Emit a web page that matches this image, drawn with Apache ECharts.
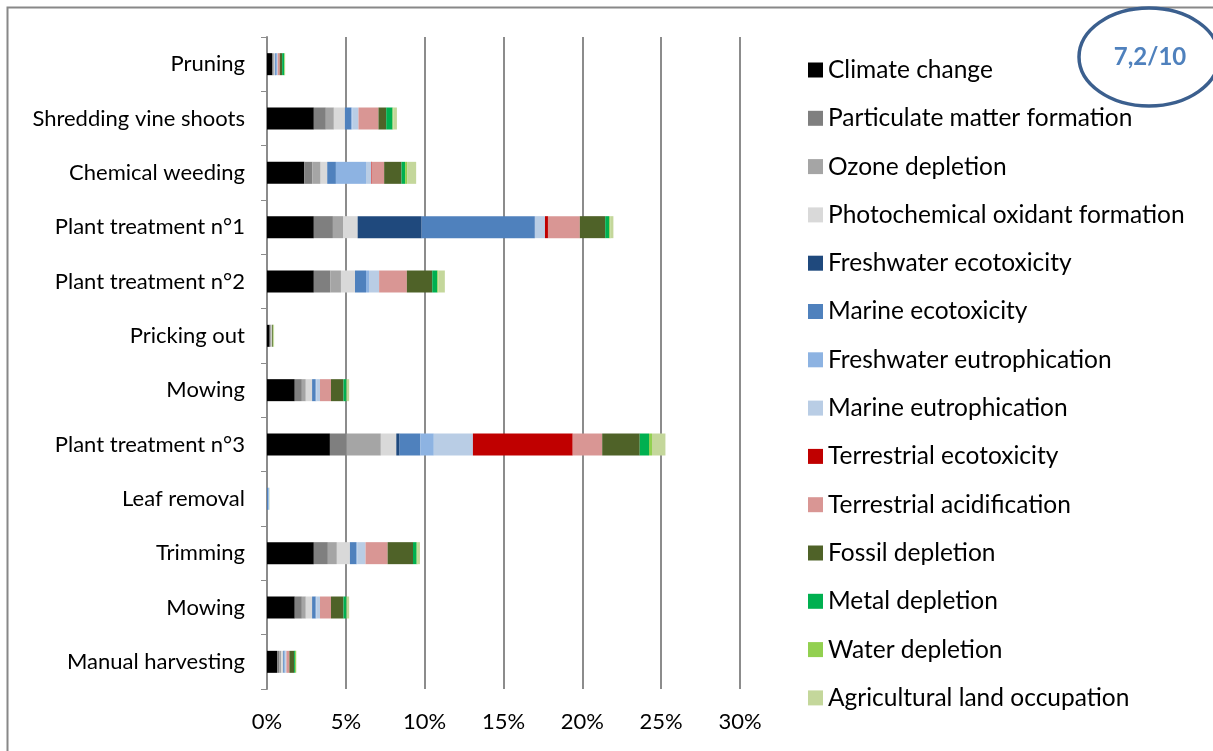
<!DOCTYPE html>
<html>
<head>
<meta charset="utf-8">
<script src="https://cdn.jsdelivr.net/npm/echarts@6/dist/echarts.min.js"></script>
<style>html,body{margin:0;padding:0;background:#fff}#c{width:1213px;height:751px}</style>
</head>
<body>
<div id="c"></div>
<script>
const categories = ['Pruning','Shredding vine shoots','Chemical weeding','Plant treatment n°1','Plant treatment n°2','Pricking out','Mowing','Plant treatment n°3','Leaf removal','Trimming','Mowing','Manual harvesting'];
const xTicks = [0,5,10,15,20,25,30];
const seriesNames = ['Climate change','Particulate matter formation','Ozone depletion','Photochemical oxidant formation','Freshwater ecotoxicity','Marine ecotoxicity','Freshwater eutrophication','Marine eutrophication','Terrestrial ecotoxicity','Terrestrial acidification','Fossil depletion','Metal depletion','Water depletion','Agricultural land occupation'];
const climateChange   = [0.32, 2.97, 2.36, 2.97, 2.97, 0.17, 1.76, 3.99, 0,    2.97, 1.76, 0.64];
const particulate     = [0.06, 0.76, 0.51, 1.21, 1.04, 0.06, 0.45, 1.06, 0,    0.89, 0.45, 0.13];
const ozone           = [0.06, 0.51, 0.53, 0.64, 0.68, 0.04, 0.25, 2.17, 0,    0.57, 0.25, 0.13];
const photochemical   = [0.06, 0.70, 0.42, 0.93, 0.89, 0.04, 0.40, 0.98, 0,    0.83, 0.40, 0.13];
const fwEcotox        = [0,    0,    0,    4.06, 0,    0,    0,    0.21, 0,    0,    0,    0];
const marineEcotox    = [0.06, 0.42, 0.55, 7.18, 0.70, 0,    0.23, 1.32, 0.08, 0.42, 0.23, 0.08];
const fwEutro         = [0.08, 0.06, 1.91, 0,    0.19, 0,    0.04, 0.85, 0.06, 0.04, 0.04, 0.06];
const marineEutro     = [0.04, 0.38, 0.32, 0.64, 0.64, 0,    0.23, 2.48, 0,    0.53, 0.23, 0.06];
const terrEcotox      = [0,    0,    0.04, 0.19, 0,    0,    0,    6.33, 0,    0,    0,    0];
const terrAcid        = [0.13, 1.27, 0.79, 2.02, 1.76, 0,    0.70, 1.87, 0,    1.40, 0.70, 0.19];
const fossil          = [0.15, 0.49, 1.10, 1.61, 1.61, 0.06, 0.79, 2.38, 0,    1.61, 0.79, 0.30];
const metal           = [0.13, 0.40, 0.23, 0.25, 0.32, 0,    0.19, 0.59, 0,    0.23, 0.19, 0.06];
const water           = [0.04, 0.05, 0.13, 0.08, 0.06, 0.04, 0.02, 0.19, 0,    0.06, 0.02, 0.06];
const agricultural    = [0.02, 0.23, 0.57, 0.19, 0.42, 0.04, 0.15, 0.85, 0.02, 0.15, 0.15, 0.02];
const seriesValues = [climateChange, particulate, ozone, photochemical, fwEcotox, marineEcotox, fwEutro, marineEutro, terrEcotox, terrAcid, fossil, metal, water, agricultural];
const colors = ['#000000','#7f7f7f','#a5a5a5','#d9d9d9','#1f497d','#4f81bd','#8db3e2','#b9cde5','#c00000','#d99694','#4f6228','#00b050','#92d050','#c4d79b'];

const FONT = 'Lato';
const chart = echarts.init(document.getElementById('c'), null, {renderer: 'canvas'});
chart.setOption({
  animation: false,
  backgroundColor: '#ffffff',
  color: colors,
  grid: {left: 267, right: 473, top: 37, bottom: 62, containLabel: false},
  xAxis: {
    type: 'value', min: xTicks[0], max: xTicks[xTicks.length - 1], interval: 5,
    axisLine: {show: false}, axisTick: {show: false},
    splitLine: {show: true, lineStyle: {color: '#8c8c8c', width: 2}},
    axisLabel: {formatter: '{value}%', fontFamily: FONT, fontSize: 22, color: '#000', margin: 22}
  },
  yAxis: {
    type: 'category', data: categories, inverse: true,
    axisLine: {show: true, lineStyle: {color: '#8c8c8c', width: 2}},
    axisTick: {show: true, length: 6, lineStyle: {color: '#8c8c8c', width: 1}},
    axisLabel: {fontFamily: FONT, fontSize: 22, color: '#000', margin: 22}
  },
  legend: {
    orient: 'vertical', left: 803, top: 51,
    itemWidth: 15, itemHeight: 15, itemGap: 20.3, itemTextGap: 8,
    icon: 'rect',
    textStyle: {fontFamily: FONT, fontSize: 24.5, color: '#000', lineHeight: 28},
    data: seriesNames
  },
  series: seriesNames.map((n, i) => ({
    name: n, type: 'bar', stack: 'total', barWidth: 22,
    data: seriesValues[i],
    itemStyle: {color: colors[i]}
  })),
  graphic: [
    {type: 'rect', silent: true, shape: {x: 7.5, y: 7.5, width: 1400, height: 900},
     style: {fill: 'none', stroke: '#888888', lineWidth: 2}},
    {type: 'ellipse', silent: true, shape: {cx: 1149, cy: 57, rx: 70, ry: 49},
     style: {fill: 'none', stroke: '#3b5f8e', lineWidth: 3.5}},
    {type: 'text', silent: true, x: 1150, y: 57,
     style: {text: '7,2/10', fill: '#4f81bd', font: 'bold 24px ' + FONT, align: 'center', verticalAlign: 'middle'}}
  ]
});
</script>
</body>
</html>
